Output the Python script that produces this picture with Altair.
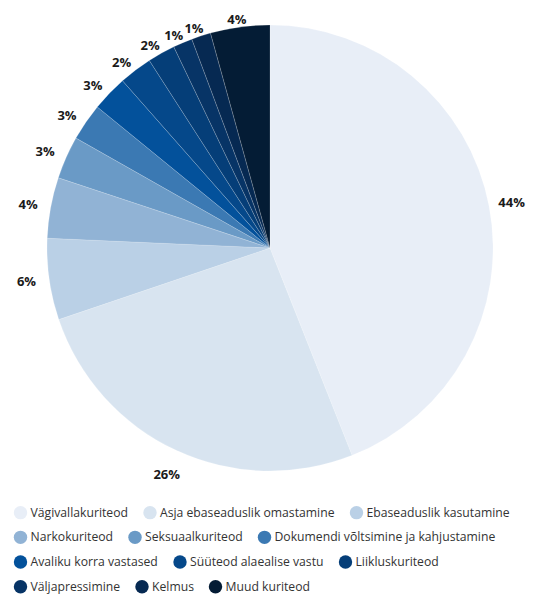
import altair as alt
import pandas as pd

categories = [
    "Vägivallakuriteod", "Asja ebaseaduslik omastamine", "Ebaseaduslik kasutamine",
    "Narkokuriteod", "Seksuaalkuriteod", "Dokumendi võltsimine ja kahjustamine",
    "Avaliku korra vastased", "Süüteod alaealise vastu", "Liikluskuriteod",
    "Väljapressimine", "Kelmus", "Muud kuriteod",
]
values = [44.0, 25.8, 5.9, 4.4, 3.1, 2.7, 2.6, 2.4, 2.0, 1.4, 1.4, 4.3]
colors = [
    "#e8eef7", "#d8e4f0", "#bad0e6", "#91b3d5", "#6a9ac6", "#3b79b3",
    "#03519b", "#05488a", "#053e78", "#073466", "#062952", "#041c35",
]

df = pd.DataFrame({"cat": categories, "val": values, "idx": list(range(len(values)))})

CX, CY, R = 262, 240, 223
RX = 246          # horizontal label radius
PER_ROW = 3       # legend entries per row
ROW_STEP = 24.7   # legend row spacing

base = alt.Chart(df).transform_window(
    cum="sum(val)", sort=[alt.SortField("idx")], frame=[None, 0]
).transform_joinaggregate(
    total="sum(val)"
).transform_calculate(
    t0="(datum.cum - datum.val) / datum.total * 2 * PI",
    t1="datum.cum / datum.total * 2 * PI",
    mid="(datum.cum - datum.val/2) / datum.total * 2 * PI",
    lbl="format(round(datum.val), 'd') + '%'",
    row=f"floor(datum.idx / {PER_ROW})",
)

layers = []
nrows = (len(categories) + PER_ROW - 1) // PER_ROW
for i in range(nrows):
    cats = categories[i * PER_ROW:(i + 1) * PER_ROW]
    cols = colors[i * PER_ROW:(i + 1) * PER_ROW]
    layers.append(
        base.transform_filter(f"datum.row == {i}").mark_arc(
            outerRadius=R, stroke="#ffffff", strokeWidth=0.5, strokeOpacity=0.35
        ).encode(
            theta=alt.Theta("t0:Q", scale=None),
            theta2="t1:Q",
            color=alt.Color(
                "cat:N",
                scale=alt.Scale(domain=cats, range=cols),
                sort=cats,
                legend=alt.Legend(
                    title=None, orient="none", legendX=5.5,
                    legendY=497.5 + ROW_STEP * i, direction="horizontal",
                    columnPadding=14.5, labelOffset=3,
                    symbolType="circle", symbolSize=180, symbolStrokeWidth=0,
                    labelFont="Open Sans", labelFontSize=12.2, labelColor="#333333",
                    labelLimit=400, padding=0,
                ),
            ),
            x=alt.value(CX), y=alt.value(CY),
        )
    )

labels = base.transform_calculate(
    lx=f"{CX} + {RX} * sin(datum.mid)",
    ly=f"{CY} - (240.5 - 10.5 * cos(datum.mid)) * cos(datum.mid)",
).mark_text(
    font="Open Sans", fontSize=13, fontWeight="bold", color="#1a1a1a",
    align="center", baseline="middle",
).encode(
    x=alt.X("lx:Q", scale=None), y=alt.Y("ly:Q", scale=None), text="lbl:N"
)

chart = alt.layer(*layers, labels).resolve_scale(color="independent").properties(
    width=519, height=587, padding=0,
    autosize=alt.AutoSizeParams(type="none"),
).configure_view(stroke=None)

chart.save("out.html", embed_options={"renderer": "svg", "actions": False})
